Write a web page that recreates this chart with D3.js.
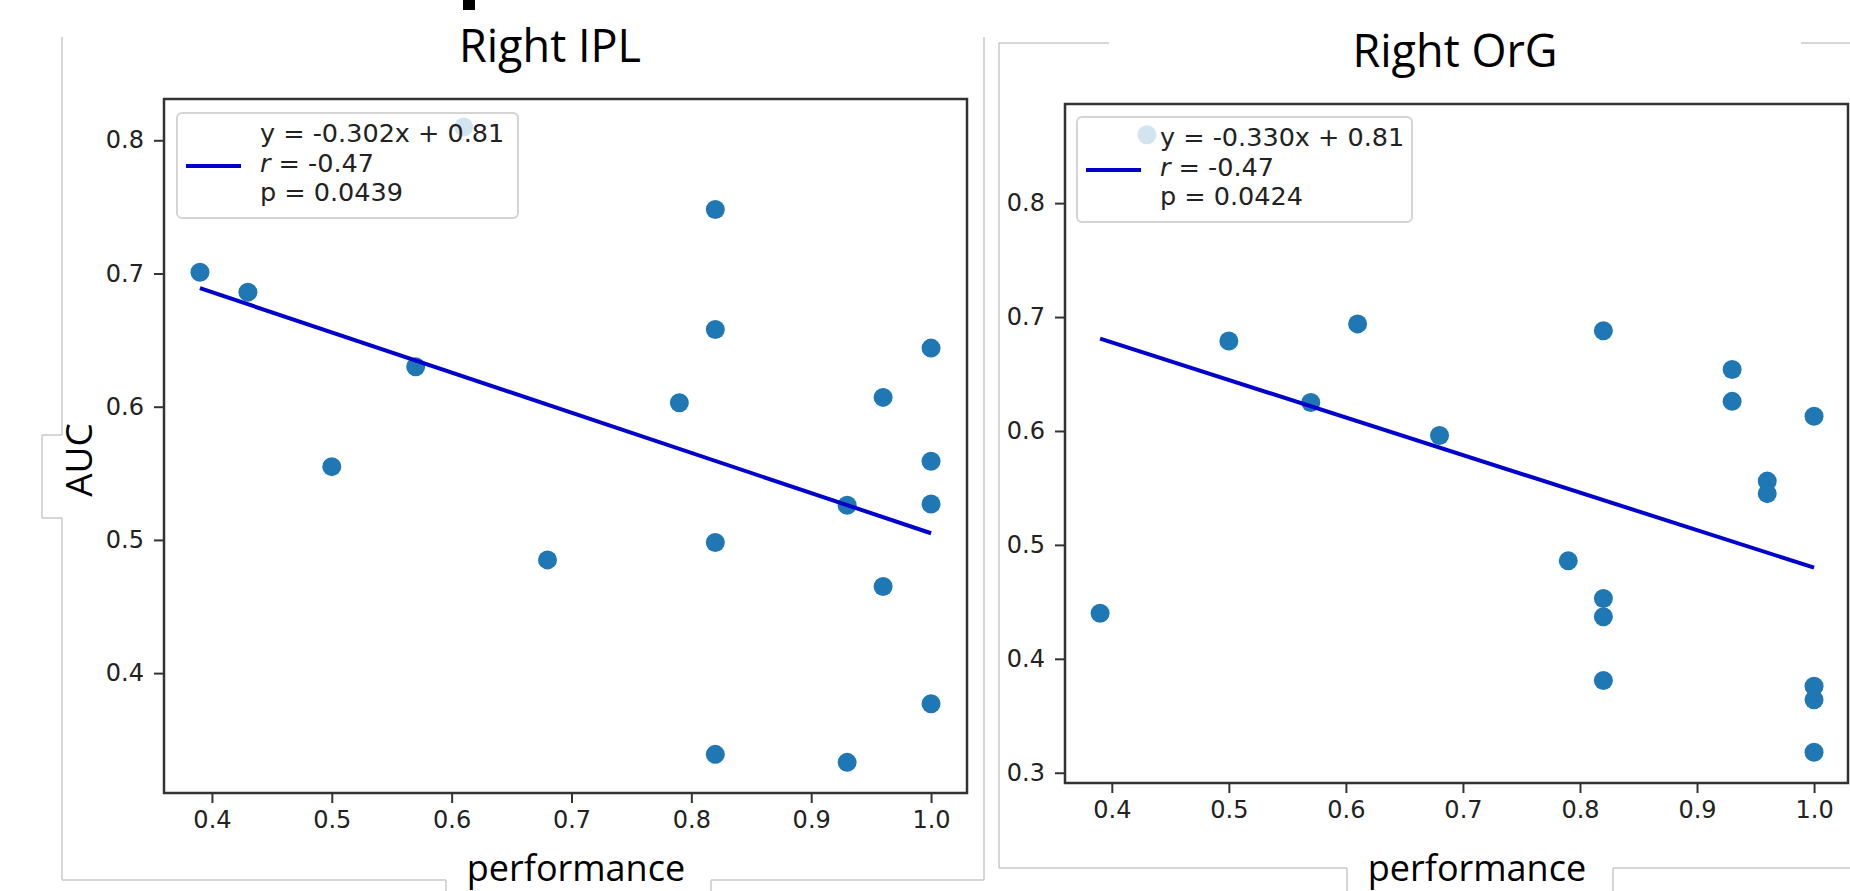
<!DOCTYPE html>
<meta charset="utf-8">
<script src="https://d3js.org/d3.v7.min.js"></script>
<style>
  body { margin: 0; background: #fff; }
  .tick text { font-family: "DejaVu Sans", sans-serif; fill: #222; }
  .slide { font-family: "Open Sans", sans-serif; fill: #000; }
</style>
<body>
<div id="my_dataviz"></div>
<script>
// ---- data ----
var titles = ["Right IPL", "Right OrG"];

// Right IPL
var iplPerf = [0.39, 0.43, 0.50, 0.57, 0.61, 0.68, 0.79, 0.82, 0.82, 0.82, 0.82, 0.93, 0.93, 0.96, 0.96, 1.00, 1.00, 1.00, 1.00];
var iplAuc  = [0.701, 0.686, 0.555, 0.630, 0.810, 0.485, 0.603, 0.748, 0.658, 0.498, 0.339, 0.526, 0.333, 0.607, 0.465, 0.644, 0.559, 0.527, 0.377];
var iplFitX = [0.39, 1.00];
var iplFitY = [0.689, 0.505];
var iplLegend = ["y = -0.302x + 0.81", "r = -0.47", "p = 0.0439"];
var iplYTicks = [0.4, 0.5, 0.6, 0.7, 0.8];

// Right OrG
var orgPerf = [0.39, 0.43, 0.50, 0.57, 0.61, 0.68, 0.79, 0.82, 0.82, 0.82, 0.82, 0.93, 0.93, 0.96, 0.96, 1.00, 1.00, 1.00, 1.00];
var orgAuc  = [0.440, 0.860, 0.679, 0.625, 0.694, 0.596, 0.486, 0.688, 0.453, 0.437, 0.381, 0.654, 0.626, 0.556, 0.545, 0.613, 0.376, 0.364, 0.318];
var orgFitX = [0.39, 1.00];
var orgFitY = [0.681, 0.480];
var orgLegend = ["y = -0.330x + 0.81", "r = -0.47", "p = 0.0424"];
var orgYTicks = [0.3, 0.4, 0.5, 0.6, 0.7, 0.8];

var xTicks = [0.4, 0.5, 0.6, 0.7, 0.8, 0.9, 1.0];

var svg = d3.select("#my_dataviz")
    .append("svg")
    .attr("width", 1850)
    .attr("height", 891);

// light grey frames of the pasted pictures
var frame = [
  [62, 37, 62, 435], [62, 518, 62, 880], [62, 435, 42, 435], [42, 435, 42, 518], [42, 518, 62, 518],
  [62, 880, 446, 880], [711, 880, 984, 880], [446, 880, 446, 891], [711, 880, 711, 891],
  [984, 37, 984, 880],
  [999, 43, 999, 868], [999, 43, 1109, 43], [1801, 43, 1850, 43],
  [999, 868, 1347, 868], [1613, 868, 1850, 868], [1347, 868, 1347, 891], [1613, 868, 1613, 891]
];
svg.selectAll(".frame")
    .data(frame)
    .enter()
    .append("line")
    .attr("x1", function(d) { return d[0]; })
    .attr("y1", function(d) { return d[1]; })
    .attr("x2", function(d) { return d[2]; })
    .attr("y2", function(d) { return d[3]; })
    .style("stroke", "#c8c8c8")
    .style("stroke-width", 1.5);

// bit of a cut off glyph at the top
svg.append("rect")
    .attr("x", 463).attr("y", 0)
    .attr("width", 12).attr("height", 10)
    .style("fill", "#000");

function drawPanel(p) {
    var x = d3.scaleLinear().domain(p.xDomain).range([p.left, p.right]);
    var y = d3.scaleLinear().domain(p.yDomain).range([p.bottom, p.top]);

    // axes box
    svg.append("rect")
        .attr("x", p.left).attr("y", p.top)
        .attr("width", p.right - p.left).attr("height", p.bottom - p.top)
        .style("fill", "#fff")
        .style("stroke", "#333")
        .style("stroke-width", 2.5);

    var gx = svg.append("g")
        .attr("transform", "translate(0," + p.bottom + ")")
        .call(d3.axisBottom(x).tickValues(xTicks).tickFormat(d3.format(".1f")).tickSize(10).tickPadding(8));
    var gy = svg.append("g")
        .attr("transform", "translate(" + p.left + ",0)")
        .call(d3.axisLeft(y).tickValues(p.yTicks).tickFormat(d3.format(".1f")).tickSize(10).tickPadding(10));
    [gx, gy].forEach(function(g) {
        g.select(".domain").remove();
        g.selectAll(".tick line").style("stroke", "#333").style("stroke-width", 2);
        g.selectAll(".tick text").style("font-size", "24px");
    });

    // the scatter
    svg.selectAll(null)
        .data(p.xs)
        .enter()
        .append("circle")
        .attr("cx", function(d) { return x(d); })
        .attr("cy", function(d, i) { return y(p.ys[i]); })
        .attr("r", 9.5)
        .style("fill", "#1f77b4");

    // regression line
    svg.append("path")
        .datum(p.fitX)
        .attr("d", d3.line()
            .x(function(d) { return x(d); })
            .y(function(d, i) { return y(p.fitY[i]); }))
        .style("fill", "none")
        .style("stroke", "#0000cd")
        .style("stroke-width", 4);

    // legend
    var lg = svg.append("g").attr("transform", "translate(" + p.legend[0] + "," + p.legend[1] + ")");
    lg.append("rect")
        .attr("width", p.legend[2]).attr("height", 105)
        .attr("rx", 5)
        .style("fill", "#fff").style("fill-opacity", 0.8)
        .style("stroke", "#d4d4d4").style("stroke-width", 2);
    lg.append("line")
        .attr("x1", 9).attr("x2", 64).attr("y1", 53).attr("y2", 53)
        .style("stroke", "#0000cd").style("stroke-width", 4);
    lg.selectAll(null)
        .data(p.legendText)
        .enter()
        .append("text")
        .attr("x", 83)
        .attr("y", function(d, i) { return 29 + i * 29.5; })
        .style("font-family", "DejaVu Sans")
        .style("font-size", "25.5px")
        .style("fill", "#222")
        .each(function(d, i) {
            var t = d3.select(this);
            if (i == 1) {
                t.append("tspan").style("font-style", "italic").text("r");
                t.append("tspan").text(d.slice(1));
            } else {
                t.text(d);
            }
        });

    // slide text
    svg.append("text")
        .attr("class", "slide")
        .attr("x", p.titlePos[0]).attr("y", p.titlePos[1])
        .attr("text-anchor", "middle")
        .style("font-size", "45px")
        .text(p.title);

    svg.append("text")
        .attr("class", "slide")
        .attr("x", p.xlabPos).attr("y", 881)
        .attr("text-anchor", "middle")
        .style("font-size", "36px")
        .text("performance");
}

drawPanel({
    left: 164, right: 967, top: 99, bottom: 793,
    xDomain: [0.36, 1.03], yDomain: [0.31, 0.831],
    yTicks: iplYTicks, xs: iplPerf, ys: iplAuc, fitX: iplFitX, fitY: iplFitY,
    legend: [177, 113, 341], legendText: iplLegend,
    title: titles[0], titlePos: [550, 62], xlabPos: 576
});

drawPanel({
    left: 1065, right: 1848, top: 104, bottom: 783,
    xDomain: [0.36, 1.029], yDomain: [0.291, 0.887],
    yTicks: orgYTicks, xs: orgPerf, ys: orgAuc, fitX: orgFitX, fitY: orgFitY,
    legend: [1077, 117, 335], legendText: orgLegend,
    title: titles[1], titlePos: [1455, 67], xlabPos: 1477
});

// y label, only on the left panel
svg.append("text")
    .attr("class", "slide")
    .attr("transform", "translate(92,460) rotate(-90)")
    .attr("text-anchor", "middle")
    .style("font-size", "37px")
    .text("AUC");
</script>
</body>
